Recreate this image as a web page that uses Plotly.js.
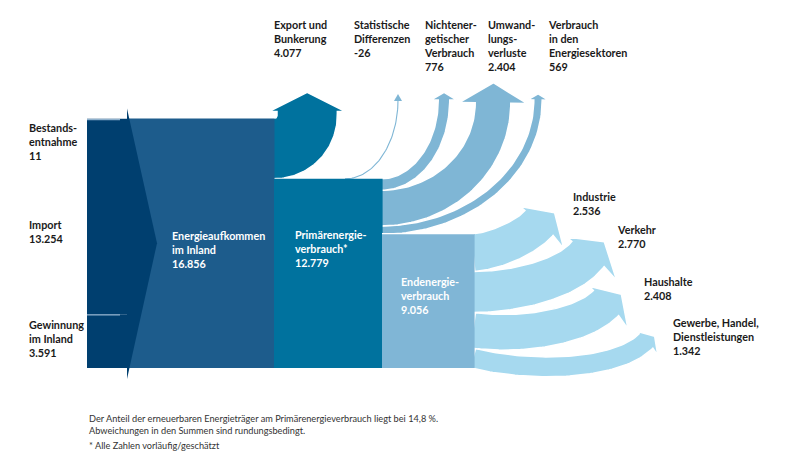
<!DOCTYPE html>
<html><head><meta charset="utf-8">
<script src="https://cdn.plot.ly/plotly-3.0.1.min.js"></script>
<style>html,body{margin:0;padding:0;background:#fff;overflow:hidden}#chart{width:807px;height:454px}</style>
</head><body><div id="chart"></div>
<script>
// ---------------- data (Petajoule) ----------------
const inflowLabels = ['Bestands-<br>entnahme', 'Import', 'Gewinnung<br>im Inland'];
const inflowValues = [11, 13254, 3591];
const supplyLabel = 'Energieaufkommen<br>im Inland';
const supplyValue = 16856;
const exportLabel = 'Export und<br>Bunkerung';
const exportValue = 4077;
const primaryLabel = 'Primärenergie-<br>verbrauch*';
const primaryValue = 12779;
const lossLabels = ['Statistische<br>Differenzen', 'Nichtener-<br>getischer<br>Verbrauch', 'Umwand-<br>lungs-<br>verluste', 'Verbrauch<br>in den<br>Energiesektoren'];
const lossValues = [-26, 776, 2404, 569];
const finalLabel = 'Endenergie-<br>verbrauch';
const finalValue = 9056;
const sectorLabels = ['Industrie', 'Verkehr', 'Haushalte', 'Gewerbe, Handel,<br>Dienstleistungen'];
const sectorValues = [2536, 2770, 2408, 1342];
const noteLines = ['Der Anteil der erneuerbaren Energieträger am Primärenergieverbrauch liegt bei 14,8 %.', 'Abweichungen in den Summen sind rundungsbedingt.'];
const footnote = '* Alle Zahlen vorläufig/geschätzt';

// ---------------- styling / layout ----------------
const W = 807, H = 454;
const K = 0.0148;          // pixel per PJ
const BASE = 368;          // pixel row of the common bottom line
const toY = py => (BASE - py) / K;
const px = v => v * K;
const C = {navy:'#003f6f', supply:'#1d5c8c', primary:'#00729e', loss:'#7fb6d5', final:'#80b6d6', sector:'#a6d9ef', sep:'#8fb1cd', text:'#1a1a1a'};
const colIn = [87, 127], colSupply = [127, 274], colPrimary = [274, 382], colFinal = [382, 474];

function fmt(v){ const s = String(Math.abs(v)).replace(/\B(?=(\d{3})+(?!\d))/g, '.'); return (v < 0 ? '-' : '') + s; }

const traces = [];
function addPoly(pts, color, outline){
  traces.push({type:'scatter', mode:'lines', x:pts.map(p=>p[0]), y:pts.map(p=>toY(p[1])),
    fill:'toself', fillcolor:color, line:{color: outline ? '#ffffff' : color, width: outline ? 1.5 : 0},
    hoverinfo:'skip', showlegend:false});
}
function addLine(pts, color, width){
  traces.push({type:'scatter', mode:'lines', x:pts.map(p=>p[0]), y:pts.map(p=>toY(p[1])),
    line:{color, width}, hoverinfo:'skip', showlegend:false});
}
function rect(x0, x1, y0, y1){ return [[x0,y0],[x1,y0],[x1,y1],[x0,y1],[x0,y0]]; }
function quarter(cx, cy, a, b, n){ const p=[]; for(let i=0;i<=n;i++){ const th=i/n*Math.PI/2; p.push([cx+a*Math.sin(th), cy+b*Math.cos(th)]); } return p; }
function bezier(P0,P1,P2,P3,n){ const p=[]; for(let i=0;i<=n;i++){ const t=i/n, u=1-t;
  p.push([u*u*u*P0[0]+3*u*u*t*P1[0]+3*u*t*t*P2[0]+t*t*t*P3[0], u*u*u*P0[1]+3*u*u*t*P1[1]+3*u*t*t*P2[1]+t*t*t*P3[1]]); } return p; }
function band(c, w){
  const A=[], B=[];
  for(let i=0;i<c.length;i++){
    const p=c[Math.max(0,i-1)], q=c[Math.min(c.length-1,i+1)];
    let tx=q[0]-p[0], ty=q[1]-p[1]; const L=Math.hypot(tx,ty); tx/=L; ty/=L;
    const nx=ty, ny=-tx;
    A.push([c[i][0]+nx*w/2, c[i][1]+ny*w/2]); B.push([c[i][0]-nx*w/2, c[i][1]-ny*w/2]);
  }
  const p=c[c.length-2], E=c[c.length-1];
  let tx=E[0]-p[0], ty=E[1]-p[1]; const L=Math.hypot(tx,ty); tx/=L; ty/=L;
  return {A, B, E, t:[tx,ty], n:[ty,-tx]};
}
function straightArrow(c, w, extra, lenF){
  const b = band(c, w), hw = w/2 + extra, L = (lenF||0.3) * 2 * hw, E=b.E, t=b.t, n=b.n;
  const head = [[E[0]+n[0]*hw, E[1]+n[1]*hw], [E[0]+t[0]*L, E[1]+t[1]*L], [E[0]-n[0]*hw, E[1]-n[1]*hw]];
  return b.A.concat(head, b.B.slice().reverse(), [b.A[0]]);
}
function hookArrow(c, w){
  const b = band(c, w), E=b.E, t=b.t, n=b.n;
  const P = (a, m) => [E[0]+t[0]*a+n[0]*m, E[1]+t[1]*a+n[1]*m];
  const head = [P(0, 0.67*w), P(0.48*w, -0.13*w), P(-0.08*w, -0.95*w)];
  return b.A.concat(head, b.B.slice().reverse(), [b.A[0]]);
}

// ---------------- geometry derived from the values ----------------
const supplyTop = BASE - px(supplyValue);
const primaryTop = BASE - px(primaryValue);
const finalTop = BASE - px(finalValue);

// upward losses (from primary block)
const lossEndX = [398, 444, 493, 538];
const lossEndY = [100, 100, 103, 100];
const lossHeadExtra = [0, 7, 16, 6];
let cur = primaryTop;
const lossPolys = [];
for(let i=1;i<lossValues.length;i++){
  const w = px(lossValues[i]); const cy = cur + w/2; cur += w;
  const c = [[380, cy]].concat(quarter(381, lossEndY[i], lossEndX[i]-381, cy-lossEndY[i], 60));
  lossPolys.push(straightArrow(c, w, lossHeadExtra[i]));
}
for(let i=lossPolys.length-1;i>=0;i--) addPoly(lossPolys[i], C.loss, true);
// statistical differences: hair line
{
  const sx = 345, c = quarter(sx, lossEndY[0], lossEndX[0]-sx, primaryTop-lossEndY[0], 50);
  addLine(c, C.loss, 1.1);
  const ex = lossEndX[0], ey = lossEndY[0];
  addPoly([[ex-4, ey+1],[ex, ey-6],[ex+4, ey+1],[ex-4, ey+1]], C.loss, false);
}

// export arrow
{
  const w = px(exportValue), r0 = 3, R = r0 + w/2, cx = colSupply[1], cy = supplyTop - r0;
  const c = [[cx-2, cy+R]].concat(quarter(cx, cy, R, R, 60), [[cx+R, supplyTop-5], [cx+R, supplyTop-7]]);
  addPoly(straightArrow(c, w, 8, 0.25), C.primary, true);
}

// final consumption sectors
const sectorStartDeg = [-5, 0, 8, 15];
const sectorEnd = [[539,223],[588,254],[606,303],[646,341]];
const sectorEndDir = [[0.65,-0.76],[0.6,-0.8],[0.69,-0.72],[0.7,-0.7]];
const sectorHandle = [[25,18],[45,30],[45,35],[50,45]];
cur = finalTop;
const secPolys = [];
for(let i=0;i<sectorValues.length;i++){
  const w = px(sectorValues[i]); const cy = cur + w/2; cur += w;
  const a = sectorStartDeg[i]*Math.PI/180, d = sectorEndDir[i], dl = Math.hypot(d[0],d[1]);
  const P0 = [colFinal[1]-1, cy], P1 = [P0[0]+Math.cos(a)*sectorHandle[i][0], cy+Math.sin(a)*sectorHandle[i][0]];
  const P3 = sectorEnd[i], P2 = [P3[0]-d[0]/dl*sectorHandle[i][1], P3[1]-d[1]/dl*sectorHandle[i][1]];
  secPolys.push(hookArrow(bezier(P0,P1,P2,P3,60), w));
}
for(let i=secPolys.length-1;i>=0;i--) addPoly(secPolys[i], C.sector, true);

// main blocks
addPoly(rect(colSupply[0], colSupply[1]+0.5, supplyTop, BASE), C.supply, false);
addPoly(rect(colPrimary[0], colPrimary[1]+0.6, primaryTop, BASE), C.primary, false);
addPoly(rect(colFinal[0], colFinal[1]+0.6, finalTop, BASE), C.final, false);
addLine([[colFinal[0], finalTop-0.3],[colFinal[1], finalTop-0.3]], '#ffffff', 1.4);

// inflow column
cur = supplyTop;
const inflowTops = [];
for(let i=0;i<inflowValues.length;i++){
  const h = px(inflowValues[i]); inflowTops.push(cur);
  addPoly(rect(colIn[0], colIn[1]+0.5, cur, cur+h), C.navy, false); cur += h;
}
addPoly([[colIn[1], supplyTop-10],[colIn[1]+30, (supplyTop+BASE)/2],[colIn[1], BASE+11],[colIn[1], supplyTop-10]], C.navy, false);
addLine([[colIn[0], inflowTops[0]+1],[colIn[1]-7, inflowTops[0]+1]], C.sep, 1.2);
addLine([[colIn[0], inflowTops[2]],[colIn[1]-7, inflowTops[2]]], C.sep, 1.2);

// ---------------- labels ----------------
const annotations = [];
const FS = 10.8;
function label(x, capTop, text, color){
  annotations.push({x, y: toY(capTop-4), xref:'x', yref:'y', xanchor:'left', yanchor:'top', align:'left', showarrow:false,
    text, font:{family:'Lato, sans-serif', size:FS, color: color || C.text, weight:700}});
}
const inflowLabelPos = [[27,123],[27,220],[27,320]];
inflowLabels.forEach((l,i)=>label(inflowLabelPos[i][0], inflowLabelPos[i][1], l+'<br>'+fmt(inflowValues[i])));
label(170, 231, supplyLabel+'<br>'+fmt(supplyValue), '#ffffff');
label(293, 230, primaryLabel+'<br>'+fmt(primaryValue), '#ffffff');
label(399, 277, finalLabel+'<br>'+fmt(finalValue), '#ffffff');
label(272, 20, exportLabel+'<br>'+fmt(exportValue));
const lossLabelX = [352, 422, 486, 546];
lossLabels.forEach((l,i)=>label(lossLabelX[i], 20, l+'<br>'+fmt(lossValues[i])));
const sectorLabelPos = [[571,192],[615,225],[642,277],[671,318]];
sectorLabels.forEach((l,i)=>label(sectorLabelPos[i][0], sectorLabelPos[i][1], l+'<br>'+fmt(sectorValues[i])));
annotations.push({x:87, y:toY(411), xref:'x', yref:'y', xanchor:'left', yanchor:'top', align:'left', showarrow:false,
  text: noteLines.join('<br>'), font:{family:'Lato, sans-serif', size:9.2, color:'#333333'}});
annotations.push({x:87, y:toY(453), xref:'x', yref:'y', xanchor:'left', yanchor:'bottom', align:'left', showarrow:false,
  text: footnote, font:{family:'Lato, sans-serif', size:9.2, color:'#333333'}});

const layout = {
  width: W, height: H, margin:{l:0, r:0, t:0, b:0, pad:0},
  paper_bgcolor:'#ffffff', plot_bgcolor:'#ffffff', showlegend:false,
  xaxis:{range:[0, W], visible:false, fixedrange:true},
  yaxis:{range:[toY(H), toY(0)], visible:false, fixedrange:true},
  annotations
};
Plotly.newPlot('chart', traces, layout, {staticPlot:true, displayModeBar:false});
</script></body></html>
